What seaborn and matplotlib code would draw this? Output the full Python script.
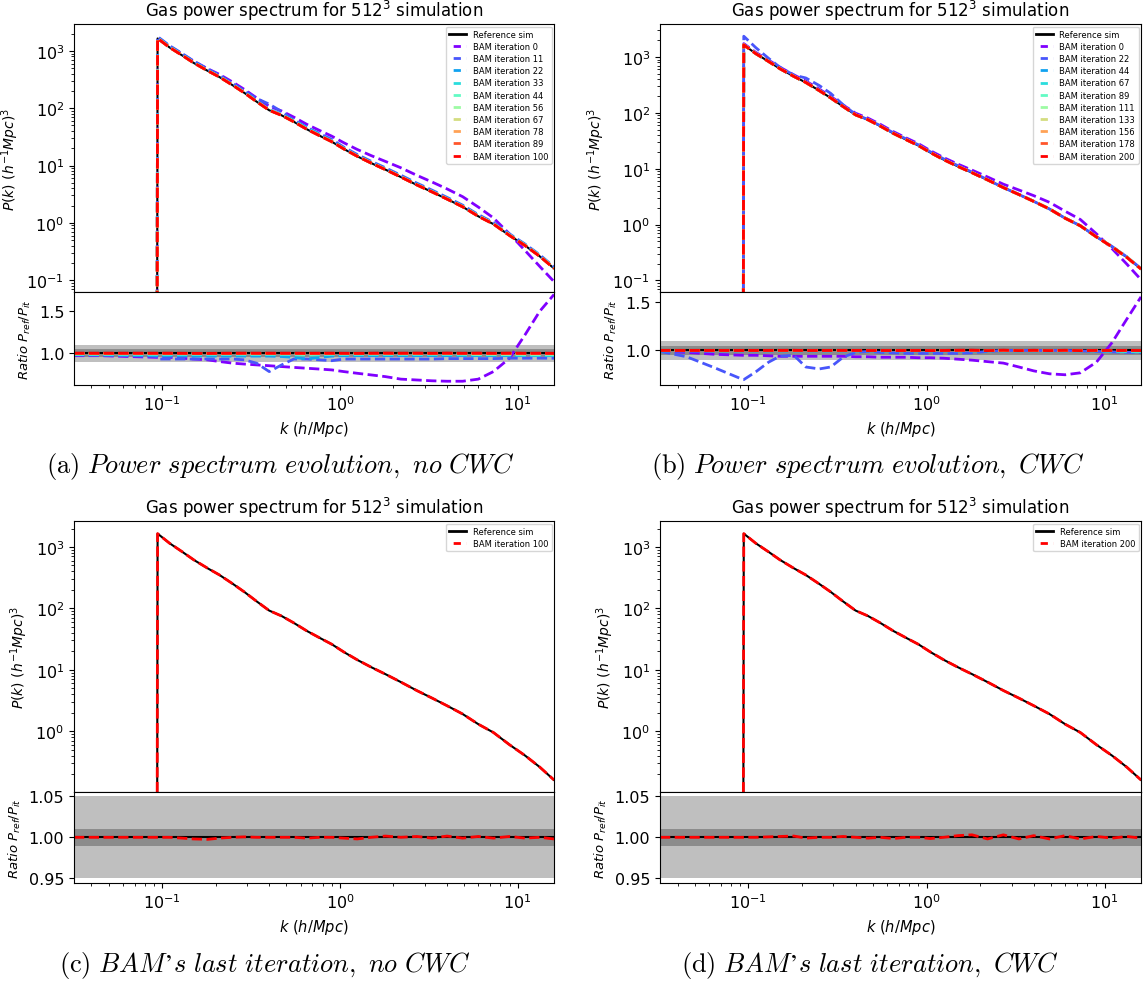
import numpy as np
import matplotlib
matplotlib.use("Agg")
import matplotlib.pyplot as plt
from matplotlib.lines import Line2D
import seaborn as sns

# ---------------- data ----------------
k = [0.0319, 0.045, 0.065, 0.0935, 0.0942, 0.11, 0.13, 0.15, 0.18, 0.21,
     0.25, 0.29, 0.34, 0.40, 0.47, 0.55, 0.65, 0.77, 0.90, 1.05,
     1.25, 1.5, 1.8, 2.2, 2.7, 3.3, 4.0, 4.9, 6.0, 7.3,
     9.0, 11.0, 13.3, 16.0]

p_ref = [1e-3, 1e-3, 1e-3, 1e-3, 1650, 1150, 830, 620, 450, 350,
         250, 185, 130, 92, 75, 58, 43, 33, 26, 19.5,
         14.5, 11, 8.5, 6.3, 4.6, 3.45, 2.6, 1.9, 1.3, 0.95,
         0.6, 0.4, 0.26, 0.16]

iters_a = [0, 11, 22, 33, 44, 56, 67, 78, 89, 100]
iters_b = [0, 22, 44, 67, 89, 111, 133, 156, 178, 200]

# ratio P_ref / P_it, panel (a) (no CWC)
r_a0 = [0.97, 0.97, 0.96, 0.95, 0.95, 0.95, 0.94, 0.93, 0.92, 0.90,
        0.88, 0.87, 0.86, 0.85, 0.84, 0.83, 0.82, 0.81, 0.80, 0.78,
        0.76, 0.74, 0.72, 0.69, 0.68, 0.67, 0.665, 0.665, 0.69, 0.78,
        0.94, 1.22, 1.50, 1.70]
r_a11 = [0.98, 0.975, 0.97, 0.96, 0.93, 0.93, 0.93, 0.93, 0.93, 0.93,
         0.93, 0.92, 0.88, 0.78, 0.86, 0.93, 0.93, 0.92, 0.91, 0.93,
         0.93, 0.93, 0.93, 0.93, 0.93, 0.93, 0.935, 0.935, 0.935, 0.935,
         0.94, 0.94, 0.94, 0.94]
r_a22 = [0.98, 0.98, 0.975, 0.97, 0.965, 0.965, 0.965, 0.965, 0.965, 0.965,
         0.965, 0.965, 0.965, 0.965, 0.96, 0.95, 0.93, 0.95, 0.965, 0.97,
         0.97, 0.97, 0.97, 0.97, 0.97, 0.97, 0.97, 0.97, 0.97, 0.97,
         0.97, 0.97, 0.97, 0.97]
r_a33 = [0.985, 0.985, 0.985, 0.985, 0.985, 0.985, 0.985, 0.985, 0.985, 0.985,
         0.985, 0.985, 0.985, 0.985, 0.985, 0.98, 0.975, 0.98, 0.985, 0.985,
         0.985, 0.985, 0.985, 0.985, 0.985, 0.985, 0.985, 0.98, 0.98, 0.98,
         0.98, 0.975, 0.975, 0.975]
r_a44 = [0.99, 0.99, 0.99, 0.99, 0.99, 0.99, 0.99, 0.99, 0.99, 0.99,
         0.99, 0.99, 0.99, 0.99, 0.99, 0.99, 0.985, 0.99, 0.99, 0.99,
         0.99, 0.99, 0.99, 0.99, 0.99, 0.99, 0.99, 0.99, 0.985, 0.985,
         0.985, 0.985, 0.985, 0.985]
r_a56 = [0.993, 0.993, 0.993, 0.993, 0.993, 0.993, 0.993, 0.993, 0.993, 0.993,
         0.993, 0.993, 0.993, 0.993, 0.993, 0.993, 0.99, 0.993, 0.993, 0.993,
         0.993, 0.993, 0.993, 0.993, 0.993, 0.993, 0.993, 0.993, 0.99, 0.99,
         0.99, 0.99, 0.99, 0.99]
r_a67 = [0.995, 0.995, 0.995, 0.995, 0.995, 0.995, 0.995, 0.995, 0.995, 0.995,
         0.995, 0.995, 0.995, 0.995, 0.995, 0.995, 0.993, 0.995, 0.995, 0.995,
         0.995, 0.995, 0.995, 0.995, 0.995, 0.995, 0.995, 0.995, 0.993, 0.993,
         0.993, 0.993, 0.993, 0.993]
r_a78 = [0.997, 0.997, 0.997, 0.997, 0.997, 0.997, 0.997, 0.997, 0.997, 0.997,
         0.997, 0.997, 0.997, 0.997, 0.997, 0.997, 0.996, 0.997, 0.997, 0.997,
         0.997, 0.997, 0.997, 0.997, 0.997, 0.997, 0.997, 0.997, 0.996, 0.996,
         0.996, 0.996, 0.996, 0.996]
r_a89 = [0.998, 0.998, 0.998, 0.998, 0.998, 0.998, 0.998, 0.998, 0.998, 0.998,
         0.998, 0.998, 0.998, 0.998, 0.998, 0.998, 0.998, 0.998, 0.998, 0.998,
         0.998, 0.998, 0.998, 0.998, 0.998, 0.998, 0.998, 0.998, 0.998, 0.998,
         0.998, 0.998, 0.998, 0.998]
r_a100 = [1.0, 1.0, 1.0, 1.0, 1.0, 1.0, 0.999, 0.998, 0.9975, 0.999,
          1.0, 1.0005, 1.0, 1.0, 1.0, 1.0, 0.999, 1.0, 1.0, 0.999,
          0.998, 1.0, 1.0015, 1.0, 1.001, 0.999, 1.0015, 0.999, 1.001, 0.999,
          1.001, 0.999, 1.0, 0.998]

# ratio P_ref / P_it, panel (b) (CWC)
r_b0 = [0.99, 0.98, 0.96, 0.95, 0.95, 0.95, 0.945, 0.94, 0.94, 0.94,
        0.94, 0.94, 0.94, 0.935, 0.935, 0.93, 0.93, 0.93, 0.925, 0.925,
        0.92, 0.91, 0.90, 0.885, 0.87, 0.83, 0.79, 0.76, 0.75, 0.77,
        0.88, 1.08, 1.32, 1.55]
r_b22 = [0.99, 0.935, 0.82, 0.70, 0.70, 0.78, 0.88, 0.94, 0.95, 0.83,
         0.81, 0.83, 0.93, 0.98, 0.99, 0.98, 0.975, 0.97, 0.97, 0.97,
         0.97, 0.97, 0.975, 0.99, 1.0, 1.0, 1.0, 1.0, 1.0, 0.995,
         0.99, 0.985, 0.98, 0.98]
r_b44 = [0.995, 0.995, 0.995, 0.995, 0.995, 0.995, 0.995, 0.995, 0.995, 0.995,
         0.995, 0.995, 0.995, 0.995, 0.995, 0.995, 0.995, 0.995, 0.995, 0.995,
         0.995, 0.995, 0.995, 0.995, 0.995, 0.995, 0.995, 0.995, 0.995, 0.995,
         0.995, 0.99, 0.985, 0.985]
r_b67 = [0.997, 0.997, 0.997, 0.997, 0.997, 0.997, 0.997, 0.997, 0.997, 0.997,
         0.997, 0.997, 0.997, 0.997, 0.997, 0.997, 0.997, 0.997, 0.997, 0.997,
         0.997, 0.997, 0.997, 0.997, 0.997, 0.997, 0.997, 0.997, 0.997, 0.997,
         0.997, 0.995, 0.99, 0.99]
r_b89 = [0.998, 0.998, 0.998, 0.998, 0.998, 0.998, 0.998, 0.998, 0.998, 0.998,
         0.998, 0.998, 0.998, 0.998, 0.998, 0.998, 0.998, 0.998, 0.998, 0.998,
         0.998, 0.998, 0.998, 0.998, 0.998, 0.998, 0.998, 0.998, 0.998, 0.998,
         0.998, 0.997, 0.995, 0.995]
r_b111 = [0.999, 0.999, 0.999, 0.999, 0.999, 0.999, 0.999, 0.999, 0.999, 0.999,
          0.999, 0.999, 0.999, 0.999, 0.999, 0.999, 0.999, 0.999, 0.999, 0.999,
          0.999, 0.999, 0.999, 0.999, 0.999, 0.999, 0.999, 0.999, 0.999, 0.999,
          0.999, 0.998, 0.997, 0.997]
r_b133 = [1.0, 1.0, 1.0, 1.0, 1.0, 1.0, 1.0, 1.0, 1.0, 1.0,
          1.0, 1.0, 1.0, 1.0, 1.0, 1.0, 1.0, 1.0, 1.0, 1.0,
          1.0, 1.0, 1.0, 1.0, 1.0, 1.0, 1.0, 1.0, 1.0, 1.0,
          1.0, 0.999, 0.998, 0.998]
r_b156 = [1.0, 1.0, 1.0, 1.0, 1.0, 1.0, 1.0, 1.0, 1.0, 1.0,
          1.0, 1.0, 1.0, 1.0, 1.0, 1.0, 1.0, 1.0, 1.0, 1.0,
          1.0, 1.0, 1.0, 1.0, 1.0, 1.0, 1.0, 1.0, 1.0, 1.0,
          1.0, 1.0, 0.999, 0.999]
r_b178 = [1.0, 1.0, 1.0, 1.0, 1.0, 1.0, 1.0, 1.0, 1.0, 1.0,
          1.0, 1.0, 1.0, 1.0, 1.0, 1.0, 1.0, 1.0, 1.0, 1.0,
          1.0, 1.0, 1.0, 1.0, 1.0, 1.0, 1.0, 1.0, 1.0, 1.0,
          1.0, 1.0, 1.0, 1.0]
r_b200 = [1.0, 1.0, 1.0, 1.0, 1.0, 1.0, 1.0005, 1.001, 1.0015, 0.999,
          1.0, 1.0, 1.001, 1.0, 0.999, 1.0, 0.9985, 1.0, 1.0, 0.9985,
          1.0, 1.002, 1.003, 0.998, 1.003, 0.998, 1.002, 0.998, 1.002, 0.998,
          1.001, 0.999, 1.001, 0.999]

ratios_a = [r_a0, r_a11, r_a22, r_a33, r_a44, r_a56, r_a67, r_a78, r_a89, r_a100]
ratios_b = [r_b0, r_b22, r_b44, r_b67, r_b89, r_b111, r_b133, r_b156, r_b178, r_b200]

titles = ["Gas power spectrum for 512$^3$ simulation"] * 4
captions = [r"$\mathrm{(a)}\ \mathit{Power\ spectrum\ evolution,\ no\ CWC}$",
            r"$\mathrm{(b)}\ \mathit{Power\ spectrum\ evolution,\ CWC}$",
            r"$\mathrm{(c)}\ \mathit{BAM’s\ last\ iteration,\ no\ CWC}$",
            r"$\mathrm{(d)}\ \mathit{BAM’s\ last\ iteration,\ CWC}$"]

# ---------------- figure ----------------
W, H = 1144, 987
fig = plt.figure(figsize=(W / 100, H / 100), dpi=100)
plt.rcParams['font.family'] = ['DejaVu Sans']


def rect(l, t, r, b):
    return [l / W, 1 - b / H, (r - l) / W, (b - t) / H]


colors = plt.cm.rainbow(np.linspace(0, 1, 10))
XLIM = (0.0319, 16.0)
LEG_DASH = (3.1, (2.6, 2.0))


def panel(main_r, ratio_r, ratios, iters, cols, ylim, rylim, rticks, bands, title):
    ax = fig.add_axes(main_r)
    axr = fig.add_axes(ratio_r, sharex=ax)
    ax.set_xscale('log')
    ax.set_yscale('log')
    sns.lineplot(x=k, y=p_ref, ax=ax, color='k', lw=1.5,
                 estimator=None, sort=False, legend=False)
    for r, it, c in zip(ratios, iters, cols):
        p_it = np.array(p_ref) / np.array(r)
        sns.lineplot(x=k, y=p_it, ax=ax, color=c, lw=2, linestyle='--',
                     estimator=None, sort=False, legend=False)
    ax.set_xlim(*XLIM)
    ax.set_ylim(*ylim)
    ax.set_title(title, fontsize=12)
    ax.set_ylabel(r"$P(k)\ (h^{-1}Mpc)^3$", fontsize=10)
    ax.tick_params(axis='both', labelsize=11.5)
    ax.tick_params(axis='x', labelbottom=False)
    handles = [Line2D([], [], color='k', lw=2)]
    labels = ['Reference sim']
    for it, c in zip(iters, cols):
        handles.append(Line2D([], [], color=c, lw=2, linestyle=LEG_DASH))
        labels.append(f'BAM iteration {it}')
    ax.legend(handles, labels, loc='upper right', fontsize=6.0,
              handlelength=2.0, labelspacing=0.38, borderaxespad=0.3)

    (lo1, hi1, c1), (lo2, hi2, c2) = bands
    axr.axhspan(lo1, hi1, color=c1, lw=0)
    axr.axhspan(lo2, hi2, color=c2, lw=0)
    sns.lineplot(x=k, y=np.ones(len(k)), ax=axr, color='k', lw=1.5,
                 estimator=None, sort=False, legend=False)
    for r, c in zip(ratios, cols):
        sns.lineplot(x=k, y=r, ax=axr, color=c, lw=2, linestyle='--',
                     estimator=None, sort=False, legend=False)
    axr.set_xscale('log')
    axr.set_xlim(*XLIM)
    axr.set_ylim(*rylim)
    axr.set_yticks(rticks)
    axr.set_ylabel(r"$Ratio\ P_{ref}/P_{it}$", fontsize=9.5)
    axr.set_xlabel(r"$k\ (h/Mpc)$", fontsize=10.5)
    axr.tick_params(axis='both', labelsize=11.5)
    return ax, axr


light, dark = '#bfbfbf', '#8c8c8c'
# (a)
panel(rect(74, 25, 554, 293), rect(74, 293, 554, 386), ratios_a, iters_a, colors,
      (0.062, 2950), (0.62, 1.73), [1.0, 1.5],
      [(0.9, 1.1, light), (0.95, 1.05, dark)], titles[0])
# (b)
panel(rect(660, 25, 1141, 293), rect(660, 293, 1141, 386), ratios_b, iters_b, colors,
      (0.062, 3900), (0.645, 1.60), [1.0, 1.5],
      [(0.9, 1.1, light), (0.95, 1.05, dark)], titles[1])
# (c)
_, axc = panel(rect(74, 522, 554, 793), rect(74, 793, 554, 884), [r_a100], [100], [colors[-1]],
               (0.102, 2650), (0.9445, 1.055), [0.95, 1.00, 1.05],
               [(0.95, 1.05, light), (0.99, 1.01, dark)], titles[2])
# (d)
_, axd = panel(rect(660, 522, 1141, 793), rect(660, 793, 1141, 884), [r_b200], [200], [colors[-1]],
               (0.102, 2650), (0.9445, 1.055), [0.95, 1.00, 1.05],
               [(0.95, 1.05, light), (0.99, 1.01, dark)], titles[3])
for a in (axc, axd):
    a.yaxis.set_major_formatter(matplotlib.ticker.FormatStrFormatter('%.2f'))

# captions
for (x, y), cap in zip([(280, 466), (868, 466), (265, 966), (870, 966)], captions):
    fig.text(x / W, 1 - y / H, cap, ha='center', va='center', fontsize=19,
             math_fontfamily='cm')

fig.savefig('out.png', dpi=100)
